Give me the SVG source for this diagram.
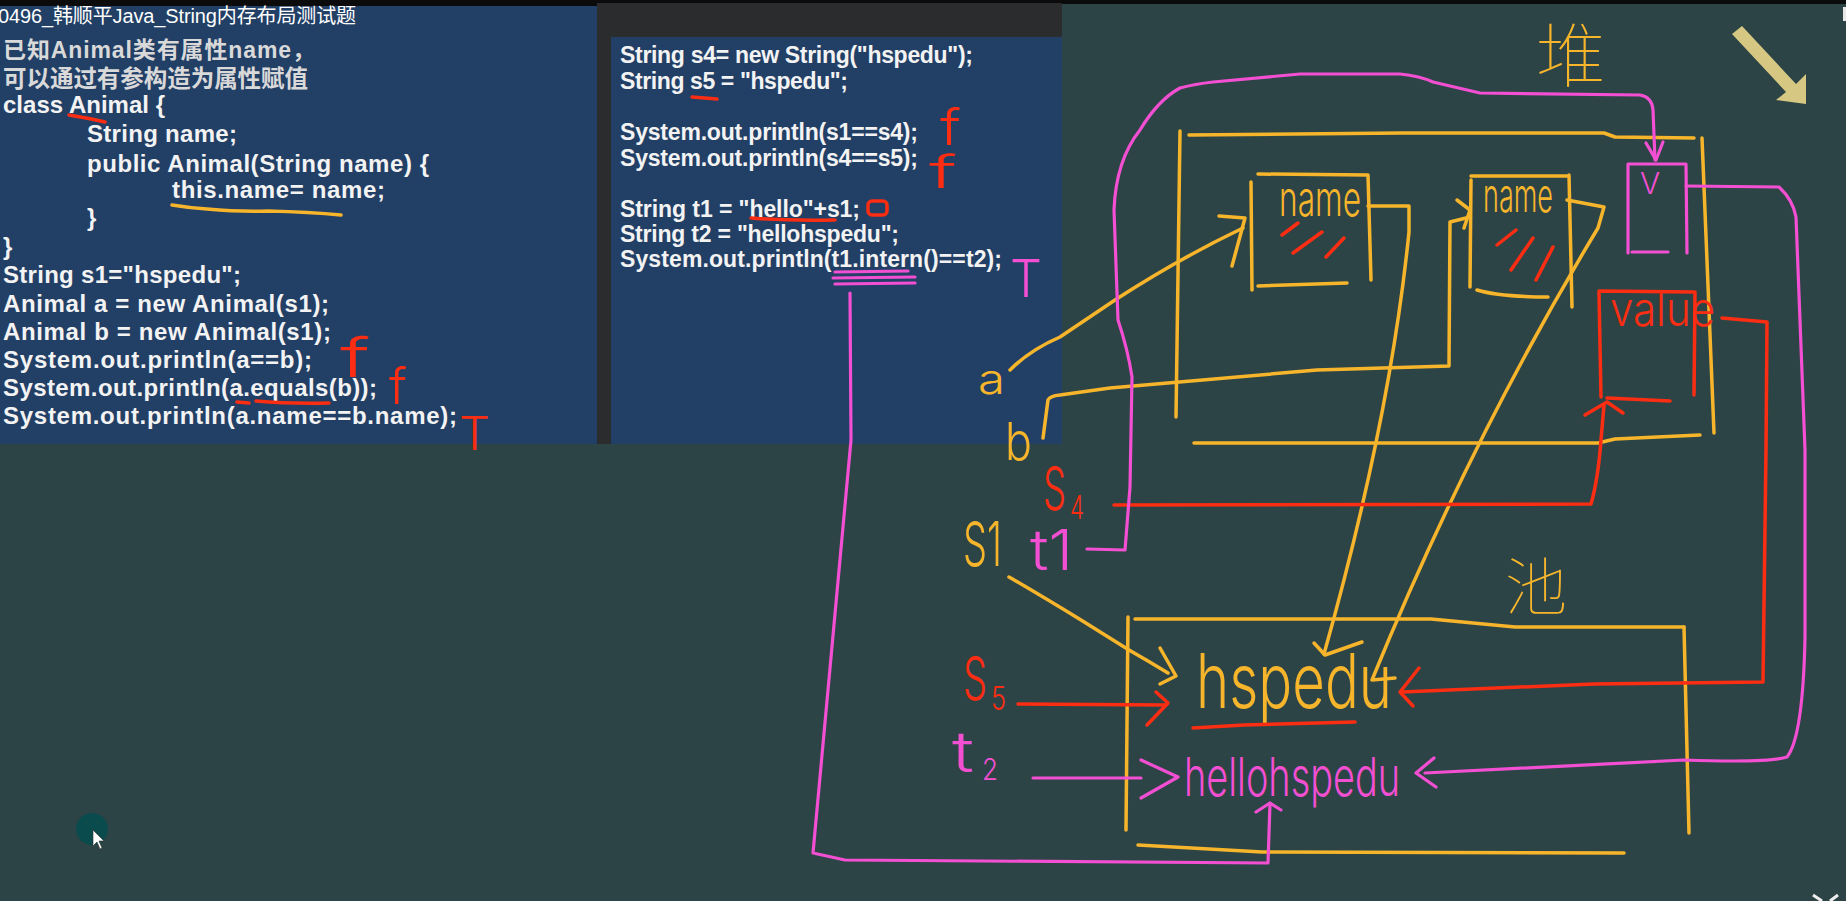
<svg xmlns="http://www.w3.org/2000/svg" width="1846" height="901" viewBox="0 0 1846 901">
<style>
.y{fill:none;stroke:#f7b52c;stroke-width:3.5;stroke-linecap:round;stroke-linejoin:round}
.r{fill:none;stroke:#fb2d12;stroke-width:3.5;stroke-linecap:round;stroke-linejoin:round}
.m{fill:none;stroke:#f34fd2;stroke-width:3.2;stroke-linecap:round;stroke-linejoin:round}
.code{font-family:"Liberation Sans","Noto Sans CJK SC",sans-serif;font-weight:bold;fill:#f3f3f3}
.cjk{font-family:"Liberation Sans","Noto Sans CJK SC",sans-serif;font-weight:bold;fill:#d9d9d9}
.hw{font-family:Inter,"Noto Sans",sans-serif;font-weight:300}
.hz{font-family:"Noto Sans CJK SC",sans-serif;font-weight:100}
.ty{fill:#f7b52c}.tr{fill:#fb2d12}.tm{fill:#f34fd2}
</style>
<rect x="0" y="0" width="1846" height="901" fill="#2d4446"/>
<rect x="0" y="0" width="1846" height="4" fill="#0b0b0b"/>

<g id="code-left">
<rect x="0" y="0" width="597" height="6" fill="#0b0b0b"/>
<rect x="0" y="6" width="597" height="438" fill="#223f66"/>
<text x="-2" y="23" font-family="'Liberation Sans','Noto Sans CJK SC',sans-serif" font-size="20" fill="#ffffff" textLength="358">0496_韩顺平Java_String内存布局测试题</text>
<text class="cjk" x="3" y="58" font-size="23" textLength="312">已知Animal类有属性name，</text>
<text class="cjk" x="3" y="87" font-size="23.5" textLength="305">可以通过有参构造为属性赋值</text>
<text class="code" font-size="24" x="3" y="113" textLength="162">class Animal {</text>
<text class="code" font-size="24" x="87" y="142" textLength="150">String name;</text>
<text class="code" font-size="24" x="87" y="172" textLength="342">public Animal(String name) {</text>
<text class="code" font-size="24" x="172" y="198" textLength="213">this.name= name;</text>
<text class="code" font-size="24" x="87" y="226">}</text>
<text class="code" font-size="24" x="3" y="255">}</text>
<text class="code" font-size="24" x="3" y="283" textLength="238">String s1="hspedu";</text>
<text class="code" font-size="24" x="3" y="312" textLength="326">Animal a = new Animal(s1);</text>
<text class="code" font-size="24" x="3" y="340" textLength="328">Animal b = new Animal(s1);</text>
<text class="code" font-size="24" x="3" y="368" textLength="309">System.out.println(a==b);</text>
<text class="code" font-size="24" x="3" y="396" textLength="374">System.out.println(a.equals(b));</text>
<text class="code" font-size="24" x="3" y="424" textLength="454">System.out.println(a.name==b.name);</text>
</g>

<g id="code-right">
<rect x="597" y="3" width="465" height="441" fill="#2a2c2e"/>
<rect x="611" y="37" width="451" height="407" fill="#223f66"/>
<text class="code" font-size="23" x="620" y="63" textLength="353">String s4= new String("hspedu");</text>
<text class="code" font-size="23" x="620" y="89" textLength="228">String s5 = "hspedu";</text>
<text class="code" font-size="23" x="620" y="140" textLength="298">System.out.println(s1==s4);</text>
<text class="code" font-size="23" x="620" y="166" textLength="298">System.out.println(s4==s5);</text>
<text class="code" font-size="23" x="620" y="217" textLength="240">String t1 = "hello"+s1;</text>
<text class="code" font-size="23" x="620" y="242" textLength="279">String t2 = "hellohspedu";</text>
<text class="code" font-size="23" x="620" y="267" textLength="382">System.out.println(t1.intern()==t2);</text>
</g>

<g id="code-marks">
<path class="r" d="M69 115 Q88 118 105 122"/>
<path class="y" d="M172 205 Q190 208 207 209 Q240 212 268 211 Q310 212 341 215"/>
<text class="hw tr" x="340" y="377" font-size="54" textLength="30" lengthAdjust="spacingAndGlyphs">f</text>
<text class="hw tr" x="389" y="404" font-size="50" textLength="18" lengthAdjust="spacingAndGlyphs">f</text>
<path class="r" d="M237 402 L249 403 M256 401 Q290 404 329 403"/>
<text class="hw tr" x="459" y="450" font-size="46" textLength="31" lengthAdjust="spacingAndGlyphs">T</text>
<path class="r" d="M692 97 Q705 98 717 99"/>
<text class="hw tr" x="940" y="145" font-size="50" textLength="21" lengthAdjust="spacingAndGlyphs">f</text>
<text class="hw tr" x="929" y="188" font-size="46" textLength="28" lengthAdjust="spacingAndGlyphs">f</text>
<path class="r" d="M751 218 Q790 221 835 220"/>
<rect class="r" x="868" y="201" width="19" height="14" rx="4"/>
<path class="m" d="M835 272 L908 271 M833 278 L915 277 M835 284 L915 283" stroke-width="5.5"/>
<text class="hw tm" x="1010" y="297" font-size="52" textLength="32" lengthAdjust="spacingAndGlyphs">T</text>
</g>

<g id="heap">
<path class="y" d="M1189 135 L1402 133 L1604 133 L1615 137 L1694 138"/>
<path class="y" d="M1180 131 L1176 417"/>
<path class="y" d="M1702 138 L1714 433"/>
<path class="y" d="M1194 443 L1598 443 L1615 439 L1700 435"/>
<text class="hz ty" x="1536" y="82" font-size="70">堆</text>
</g>

<g id="obj-a">
<path class="y" d="M1251 182 L1252 290 M1258 174 L1368 175 M1368 175 L1371 280 M1258 286 L1347 283"/>
<text class="hw ty" x="1279" y="216" font-size="50" textLength="82" lengthAdjust="spacingAndGlyphs">name</text>
<path class="r" d="M1282 235 L1298 223 M1293 253 L1322 232 M1326 257 L1344 238"/>
</g>

<g id="obj-b">
<path class="y" d="M1471 180 L1470 287 M1471 176 L1567 176 M1569 175 L1572 307 M1477 290 Q1500 297 1548 297"/>
<text class="hw ty" x="1483" y="212" font-size="48" textLength="70" lengthAdjust="spacingAndGlyphs">name</text>
<path class="r" d="M1497 245 L1516 230 M1511 270 L1533 238 M1536 280 L1553 247"/>
</g>

<g id="v-box">
<path class="m" d="M1628 164 L1628 253 M1628 164 L1686 164 M1686 165 L1687 253 M1632 252 L1668 252"/>
<text class="hw tm" x="1640" y="194" font-size="30">V</text>
</g>

<g id="value-box">
<path class="r" d="M1599 292 L1601 397 M1599 291 L1695 292 M1695 292 L1694 395 M1607 398 L1670 401"/>
<text class="hw tr" x="1610" y="326" font-size="48" textLength="105" lengthAdjust="spacingAndGlyphs">value</text>
</g>

<g id="pool">
<path class="y" d="M1128 617 L1126 830"/>
<path class="y" d="M1135 619 L1431 619 L1515 627 L1684 627"/>
<path class="y" d="M1684 627 L1689 833"/>
<path class="y" d="M1138 845 L1262 852 L1624 853"/>
<text class="hz ty" x="1505" y="610" font-size="62">池</text>
</g>

<g id="str-hspedu">
<text class="hw ty" x="1196" y="708" font-size="76" textLength="196" lengthAdjust="spacingAndGlyphs">hspedu</text>
<path class="r" d="M1193 728 L1244 725 L1355 722"/>
</g>

<g id="str-hellohspedu">
<text class="hw tm" x="1184" y="796" font-size="54" textLength="216" lengthAdjust="spacingAndGlyphs">hellohspedu</text>
</g>

<g id="var-labels">
<text class="hw ty" x="978" y="394" font-size="42" textLength="27" lengthAdjust="spacingAndGlyphs">a</text>
<text class="hw ty" x="1005" y="460" font-size="52" textLength="27" lengthAdjust="spacingAndGlyphs">b</text>
<text class="hw tr" x="1043" y="510" font-size="60" textLength="23" lengthAdjust="spacingAndGlyphs">S</text>
<text class="hw tr" x="1070" y="519" font-size="32" textLength="14" lengthAdjust="spacingAndGlyphs">4</text>
<text class="hw ty" x="963" y="566" font-size="62" textLength="39" lengthAdjust="spacingAndGlyphs">S1</text>
<text class="hw tm" x="1030" y="570" font-size="56" textLength="43" lengthAdjust="spacingAndGlyphs">t1</text>
<text class="hw tr" x="963" y="700" font-size="60" textLength="24" lengthAdjust="spacingAndGlyphs">S</text>
<text class="hw tr" x="991" y="710" font-size="32" textLength="15" lengthAdjust="spacingAndGlyphs">5</text>
<text class="hw tm" x="952" y="772" font-size="56" textLength="22" lengthAdjust="spacingAndGlyphs">t</text>
<text class="hw tm" x="982" y="780" font-size="30" textLength="16" lengthAdjust="spacingAndGlyphs">2</text>
</g>

<g id="connectors">
<path class="y" d="M1010 370 Q1030 350 1060 337 L1115 300 Q1180 258 1243 228"/>
<path class="y" d="M1219 216 L1245 218 L1232 266"/>
<path class="y" d="M1043 438 L1048 400 Q1050 396 1060 395 L1110 388 L1317 370 L1449 366 L1450 222 L1466 218"/>
<path class="y" d="M1457 200 L1470 210 L1464 228"/>
<path class="y" d="M1368 206 L1409 206 L1409 232 Q1390 420 1324 654"/>
<path class="y" d="M1314 643 L1325 655 L1362 642"/>
<path class="y" d="M1567 200 L1604 207 L1598 228 Q1470 440 1372 680 L1395 678"/>
<path class="y" d="M1009 577 Q1040 595 1081 620 L1129 650 Q1150 662 1168 673"/>
<path class="y" d="M1160 648 L1176 676 L1160 684"/>
<path class="r" d="M1114 505 L1591 504 Q1598 480 1601 440 L1604 405"/>
<path class="r" d="M1585 415 L1607 402 L1623 413"/>
<path class="r" d="M1722 318 L1767 322 L1766 450 L1763 682 L1594 684 L1402 692"/>
<path class="r" d="M1419 668 L1400 692 L1413 706"/>
<path class="r" d="M1018 704 L1165 705"/>
<path class="r" d="M1156 692 L1168 703 L1147 725"/>
<path class="m" d="M1087 549 L1125 550 L1130 487 L1132 377 Q1128 350 1118 320 L1114 210 Q1116 160 1140 130 Q1158 100 1180 88 Q1195 84 1213 82 L1300 74 L1400 74 Q1420 76 1433 82 L1480 93 L1640 95 Q1652 97 1653 110 L1655 160"/>
<path class="m" d="M1646 143 L1656 160 L1663 142"/>
<path class="m" d="M1686 186 L1779 187 Q1793 200 1796 217 L1805 450 L1805 637 Q1803 737 1787 757 Q1770 763 1684 760 L1425 773"/>
<path class="m" d="M1434 758 L1416 773 L1436 787"/>
<path class="m" d="M1033 778 L1141 778"/>
<path class="m" d="M1141 760 L1178 777 L1141 798"/>
<path class="m" d="M850 293 L851 440 L813 853 L845 860 L1268 863 L1270 803"/>
<path class="m" d="M1256 812 L1270 803 L1281 810"/>
</g>

<g id="screen-marks">
<polygon points="1742,26 1796,84 1806,74 1806,104 1776,100 1786,92 1732,34" fill="#d6c882"/>
<rect x="1843" y="7" width="3" height="14" fill="#e8e8e8"/>
<path d="M1813 895 L1822 901 M1830 901 L1838 895" stroke="#eeeeee" stroke-width="3" fill="none"/>
<circle cx="92" cy="829" r="16" fill="#0a4b4d"/>
<polygon points="93,830 93,846 97,842 100,849 102,848 99,841 104,841" fill="#ffffff" stroke="#333333" stroke-width="0.6"/>
</g>
</svg>
